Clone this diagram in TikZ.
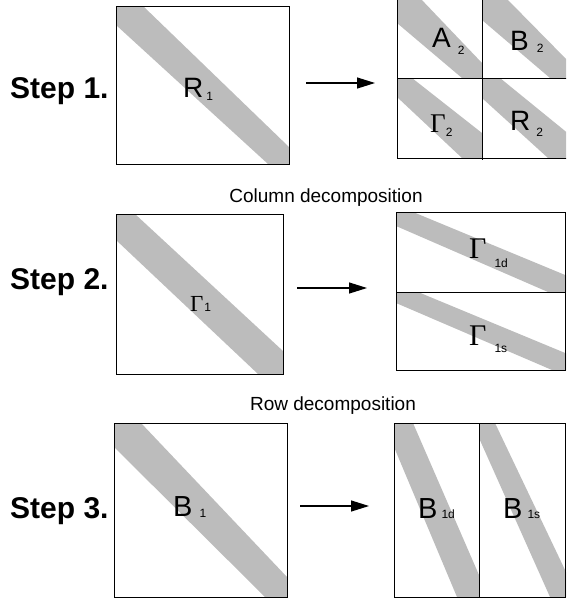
\documentclass[tikz,border=0pt]{standalone}
\usepackage{fontspec}
\setmainfont{Liberation Sans}
\newfontfamily\gammafont{Liberation Serif}
\usetikzlibrary{arrows.meta,backgrounds}
\definecolor{bandgray}{RGB}{188,188,188}
\newcommand{\bandcolor}{bandgray}
\newcommand{\boxwidth}{1pt}
\newcommand{\subtext}[3]{\hspace{#1}\raisebox{-#2}{\fontsize{12}{12}\selectfont #3}}
\newcommand{\gam}[1]{{\gammafont\fontsize{#1}{#1}\selectfont Γ}}

\tikzset{
  steptext/.style={font=\fontsize{30}{30}\selectfont\bfseries, anchor=base west, inner sep=0pt},
  captiontext/.style={font=\fontsize{19}{19}\selectfont, anchor=base, inner sep=0pt},
  mlabel/.style={font=\fontsize{28}{28}\selectfont, anchor=base west, inner sep=0pt},
  blabel/.style={font=\fontsize{29}{29}\selectfont, anchor=base west, inner sep=0pt},
  matrixbox/.style={draw, line width=\boxwidth},
  steparrow/.style={line width=1.2pt, -{Triangle[length=18pt,width=11pt]}}
}

\begin{document}
\begin{tikzpicture}[x=1pt, y=-1pt]
\useasboundingbox (0,0) rectangle (566,598);
\clip (0,0) rectangle (566,598);
%step 1
\fill[\bandcolor] (116,6) -- (143,6) -- (289,147) -- (289,164) -- (268,164) -- (116,25) -- cycle;
\fill[\bandcolor] (397,-2) -- (420,-2) -- (482,63) -- (482,78) -- (462,78) -- (397,23) -- cycle;
\fill[\bandcolor] (482,-2) -- (506,-2) -- (570,63) -- (570,78) -- (550,78) -- (482,20) -- cycle;
\fill[\bandcolor] (397,78) -- (412,78) -- (482,133) -- (482,158) -- (462,158) -- (397,97) -- cycle;
\fill[\bandcolor] (482,78) -- (500,78) -- (570,135) -- (570,158) -- (548,158) -- (482,98) -- cycle;
\draw[matrixbox] (116,6) rectangle (289,164);
\draw[matrixbox] (397,-2) rectangle (568,158);
\draw[matrixbox] (397,78) -- (568,78);
\draw[matrixbox] (482,-2) -- (482,160);
\node[steptext] (step1) at (10,98) {Step 1.};
\node[mlabel] (r1) at (183,97) {R\subtext{3pt}{3pt}{1}};
\node[mlabel] (a2) at (432,47) {A\subtext{7pt}{7pt}{2}};
\node[mlabel] (b2) at (510,50) {B\subtext{8pt}{2pt}{2}};
\node[mlabel] (g2) at (430,132) {\gam{27}\subtext{0pt}{4pt}{2}};
\node[mlabel] (r2) at (510,130) {R\subtext{6pt}{6pt}{2}};
\coordinate (s1from) at (306,83);
\coordinate (s1to) at (375,83);
\draw[steparrow] (s1from) -- (s1to);
\node[captiontext] (coldec) at (326,202) {Column decomposition};
%step 2
\fill[\bandcolor] (116,214) -- (135,214) -- (283,351) -- (283,374) -- (258,374) -- (116,240) -- cycle;
\fill[\bandcolor] (396,212) -- (413,212) -- (570,277) -- (570,292) -- (548,292) -- (396,226) -- cycle;
\fill[\bandcolor] (396,292) -- (418,292) -- (570,355) -- (570,370) -- (552,370) -- (396,303) -- cycle;
\draw[matrixbox] (116,214) rectangle (283,374);
\draw[matrixbox] (396,212) rectangle (565.5,370);
\draw[matrixbox] (396,292) -- (565.5,292);
\node[steptext] (step2) at (10,289) {Step 2.};
\node[mlabel] (g1) at (190,311) {\gam{23}\subtext{1pt}{0pt}{1}};
\node[mlabel] (g1d) at (469,258) {\gam{30}\subtext{8pt}{9pt}{1d}};
\node[mlabel] (g1s) at (469,345) {\gam{30}\subtext{8pt}{7pt}{1s}};
\coordinate (s2from) at (297,288);
\coordinate (s2to) at (367,288);
\draw[steparrow] (s2from) -- (s2to);
\node[captiontext] (rowdec) at (333,410) {Row decomposition};
%step 3
\fill[\bandcolor] (114,423) -- (141,423) -- (287,577) -- (287,597) -- (265,597) -- (114,447) -- cycle;
\fill[\bandcolor] (394,423) -- (413,423) -- (479,575) -- (479,597) -- (457,597) -- (394,447) -- cycle;
\fill[\bandcolor] (479,423) -- (495,423) -- (566,572) -- (566,597) -- (550,597) -- (479,438) -- cycle;
\draw[matrixbox] (114,423) rectangle (287,597);
\draw[matrixbox] (394,423) rectangle (565.5,597);
\draw[matrixbox] (479,423) -- (479,597);
\node[steptext] (step3) at (10,518) {Step 3.};
\node[blabel] (b1) at (173,516) {B\subtext{7pt}{1pt}{1}};
\node[blabel] (b1d) at (418,518) {B\subtext{4pt}{0pt}{1d}};
\node[blabel] (b1s) at (503,518) {B\subtext{5pt}{0pt}{1s}};
\coordinate (s3from) at (300,506);
\coordinate (s3to) at (369,506);
\draw[steparrow] (s3from) -- (s3to);
\end{tikzpicture}
\end{document}
